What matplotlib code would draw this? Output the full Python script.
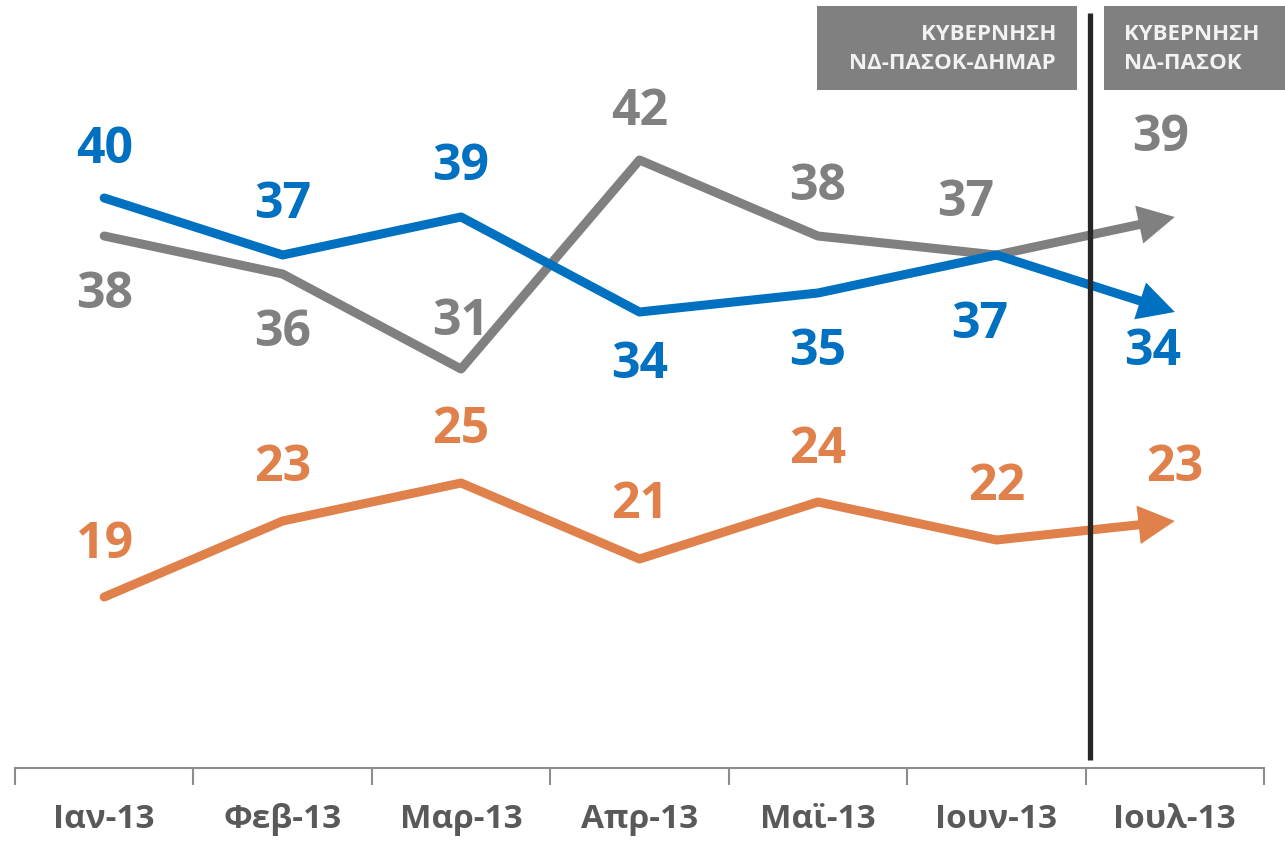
import matplotlib
matplotlib.use("Agg")
import matplotlib.pyplot as plt
from matplotlib.patches import Rectangle

plt.rcParams['font.family'] = ['Open Sans', 'DejaVu Sans']

categories = ["Ιαν-13", "Φεβ-13", "Μαρ-13", "Απρ-13", "Μαϊ-13", "Ιουν-13", "Ιουλ-13"]
blue_vals = [40, 37, 39, 34, 35, 37, 34]
gray_vals = [38, 36, 31, 42, 38, 37, 39]
orange_vals = [19, 23, 25, 21, 24, 22, 23]
box_texts = ["ΚΥΒΕΡΝΗΣΗ\nΝΔ-ΠΑΣΟΚ-ΔΗΜΑΡ", "ΚΥΒΕΡΝΗΣΗ\nΝΔ-ΠΑΣΟΚ"]

BLUE = "#0070C0"
GRAY = "#808080"
ORANGE = "#E0804A"

# label offsets in pixels (dx, dy) — styling only
blue_off = [(0, 48), (0, 50), (0, 50), (0, -53), (0, -59), (-17, -70), (-22, -40)]
gray_off = [(0, -59), (0, -59), (0, 47), (0, 48), (0, 49), (-31, 52), (-14, 79)]
orange_off = [(0, 52), (0, 53), (0, 53), (0, 54), (0, 52), (0, 53), (0, 53)]

fig = plt.figure(figsize=(12.85, 8.43), dpi=100)
ax = fig.add_axes([15 / 1285, 1 - 768 / 843, 1249 / 1285, 768 / 843])
ax.set_xlim(-0.5, 6.5)
ax.set_ylim(10, 10 + 768 / 19)

x = list(range(len(categories)))
LW = 6.5
for vals, col, offs in [(orange_vals, ORANGE, orange_off),
                        (gray_vals, GRAY, gray_off),
                        (blue_vals, BLUE, blue_off)]:
    ax.plot(x[:-1], vals[:-1], color=col, lw=LW, solid_capstyle='round',
            solid_joinstyle='round', zorder=3)
    ax.annotate("", xy=(x[-1], vals[-1]), xytext=(x[-2], vals[-2]),
                arrowprops=dict(arrowstyle="-|>,head_length=1.6,head_width=0.85",
                                color=col, lw=LW, shrinkA=0, shrinkB=0,
                                joinstyle='miter', capstyle='butt'),
                zorder=3)
    for xi, v, (dx, dy) in zip(x, vals, offs):
        ax.annotate(str(v), xy=(xi, v), xytext=(dx, dy), textcoords='offset pixels',
                    ha='center', va='center', fontsize=36, fontweight='bold',
                    color=col, zorder=4)

# vertical separator
ax.plot([5.525, 5.525], [10 + 8 / 19, 10 + 755 / 19], color="#262626", lw=3.8,
        solid_capstyle='butt', zorder=5, clip_on=False)

# axes styling
for s in ['top', 'right', 'left']:
    ax.spines[s].set_visible(False)
ax.spines['bottom'].set_color("#8C8C8C")
ax.spines['bottom'].set_linewidth(1.5)
ax.set_yticks([])
ax.set_xticks(x)
ax.set_xticklabels(categories, fontsize=24, fontweight='bold', color="#595959")
ax.tick_params(axis='x', which='major', length=0, pad=25)
ax.set_xticks([i - 0.5 for i in range(len(categories) + 1)], minor=True)
ax.tick_params(axis='x', which='minor', length=12, width=1.5, color="#8C8C8C")

# header boxes
fig.patches.append(Rectangle((817 / 1285, 1 - 90 / 843), 260 / 1285, 84 / 843,
                             transform=fig.transFigure, facecolor=GRAY,
                             edgecolor='none', zorder=1))
fig.patches.append(Rectangle((1104 / 1285, 1 - 90 / 843), 181 / 1285, 84 / 843,
                             transform=fig.transFigure, facecolor=GRAY,
                             edgecolor='none', zorder=1))
fig.text(1056 / 1285, 1 - 49 / 843, box_texts[0], ha='right', va='center',
         fontsize=16, fontweight='bold', color="#F2F2F2", linespacing=1.5)
fig.text(1124 / 1285, 1 - 49 / 843, box_texts[1], ha='left', va='center',
         fontsize=16, fontweight='bold', color="#F2F2F2", linespacing=1.5)

fig.savefig("out.png", dpi=100)
